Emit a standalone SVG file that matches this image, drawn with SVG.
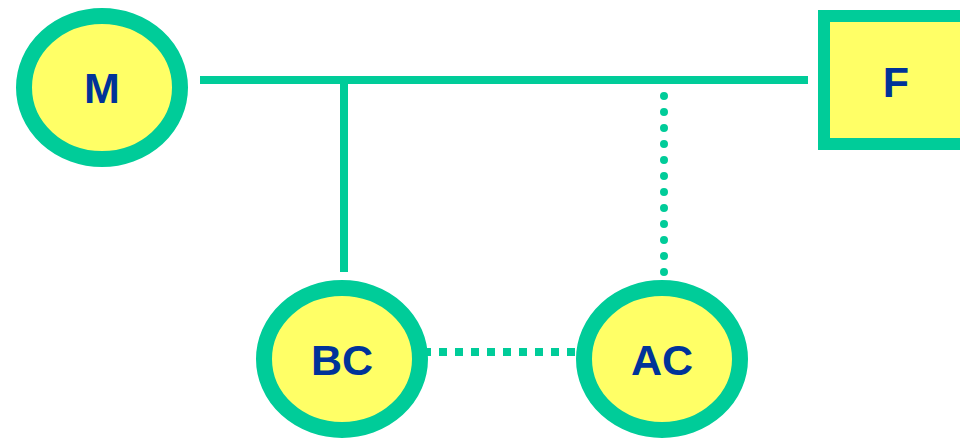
<svg xmlns="http://www.w3.org/2000/svg" width="960" height="440" viewBox="0 0 960 440">
<style>
.node{fill:#FFFF66;stroke:#00CC99;stroke-width:16}
.box{fill:#FFFF66;stroke:#00CC99;stroke-width:12}
.lbl{font-family:"Liberation Sans",Arial,sans-serif;font-weight:bold;font-size:43px;fill:#003399;text-anchor:middle}
.ln{stroke:#00CC99;stroke-width:8;fill:none}
</style>
<rect width="960" height="440" fill="#FFFFFF"/>
<g id="connectors">
<line class="ln" x1="200" y1="80" x2="808" y2="80"/>
<line class="ln" x1="344" y1="80" x2="344" y2="272"/>
<line class="ln" x1="664" y1="96" x2="664" y2="276" stroke-linecap="round" stroke-dasharray="0 16"/>
<line class="ln" x1="423" y1="352" x2="575" y2="352" stroke-dasharray="8 8"/>
</g>
<g id="node-M">
<ellipse class="node" cx="102" cy="87.5" rx="78" ry="71.5"/>
<text class="lbl" x="102" y="103">M</text>
</g>
<g id="node-F">
<rect class="box" x="824" y="16" width="152" height="128"/>
<text class="lbl" x="896" y="97">F</text>
</g>
<g id="node-BC">
<ellipse class="node" cx="342" cy="359" rx="78" ry="71"/>
<text class="lbl" x="342" y="375">BC</text>
</g>
<g id="node-AC">
<ellipse class="node" cx="662" cy="359" rx="78" ry="71"/>
<text class="lbl" x="662" y="375">AC</text>
</g>
</svg>
